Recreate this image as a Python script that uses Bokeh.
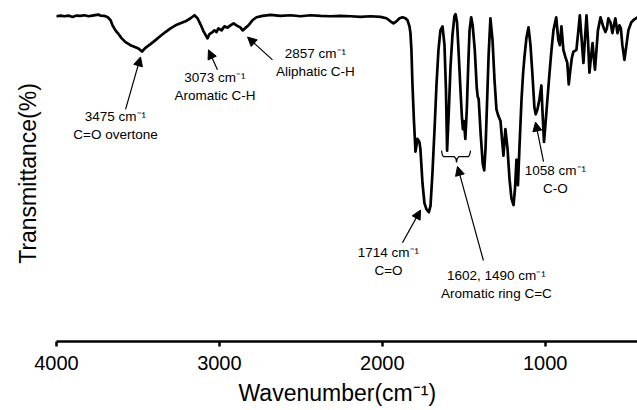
from bokeh.plotting import figure
from bokeh.models import Range1d, FixedTicker, Title, Label, Arrow, NormalHead
from bokeh.embed import file_html
from bokeh.resources import INLINE

# FTIR spectrum: wavenumber (cm-1) and transmittance (%)
wavenumber = [
    4000, 3975, 3951, 3926, 3902, 3877, 3853, 3828, 3804, 3779, 3754, 3742, 3730, 3705, 3687,
    3668, 3656, 3638, 3619, 3601, 3576, 3546, 3515, 3497, 3475,
    3454, 3423, 3392, 3362, 3331, 3300, 3269, 3239, 3208, 3177, 3153, 3134, 3116, 3098, 3073,
    3061, 3042, 3030, 3018, 3006, 2987, 2969, 2950, 2932, 2913, 2895, 2872, 2857,
    2821, 2797, 2772, 2735, 2686, 2625, 2563, 2502, 2441, 2379, 2318, 2257, 2195, 2134, 2072, 2011,
    1974, 1950, 1931, 1913, 1894, 1876, 1858, 1845, 1833, 1827, 1821, 1815, 1806, 1796, 1784, 1772,
    1766, 1753, 1741, 1729, 1714,
    1704, 1692, 1679, 1667, 1655, 1643, 1630, 1618, 1609, 1602,
    1591, 1581, 1569, 1557, 1550, 1541, 1532, 1520, 1511, 1505, 1499, 1490,
    1481, 1472, 1464, 1454, 1445, 1432, 1420, 1414, 1408, 1396, 1383, 1374,
    1366, 1356, 1347, 1336, 1323, 1311, 1299, 1287, 1274, 1265, 1256, 1244, 1231, 1219, 1207, 1194,
    1185, 1176, 1167, 1158, 1145, 1136, 1127, 1115, 1102, 1090, 1078, 1066, 1058,
    1047, 1035, 1023, 1017, 1007, 998, 986, 974, 961, 949, 932, 919, 910, 900, 888, 876, 864, 855,
    845, 836, 827, 808, 796, 787, 778, 765, 756, 746, 737, 728, 719, 709, 703, 694, 685, 676, 660,
    642, 630, 621, 612, 599, 587, 578, 569, 556, 544, 535, 526, 513, 501, 489, 471, 452, 433,
]
transmittance = [
    96.8, 97.0, 96.8, 97.0, 96.6, 97.0, 96.9, 97.1, 96.8, 97.0, 97.2, 97.3, 97.0, 96.9, 96.6,
    95.6, 94.1, 92.6, 91.5, 90.3, 89.1, 88.2, 87.6, 87.2, 86.3,
    87.4, 88.5, 89.7, 90.9, 92.1, 93.2, 94.1, 94.7, 95.3, 96.2, 97.1, 96.2, 94.4, 92.4, 90.2,
    91.5, 92.1, 92.6, 92.1, 93.2, 92.6, 93.8, 93.4, 94.1, 94.7, 94.1, 93.5, 92.6,
    94.1, 95.6, 96.5, 96.9, 97.2, 96.9, 97.1, 96.8, 97.1, 96.9, 96.8, 96.9, 96.8, 96.6, 96.8, 96.6,
    96.2, 95.3, 94.7, 95.3, 96.2, 96.5, 96.2, 95.6, 93.8, 91.8, 86.8, 77.1, 66.2, 56.5, 60.3, 59.4,
    57.4, 47.1, 41.2, 39.4, 38.5,
    40.3, 50.0, 63.2, 76.5, 86.8, 92.6, 93.8, 88.2, 75.0, 56.8,
    69.1, 81.8, 91.2, 96.8, 97.4, 95.0, 86.8, 75.0, 66.8, 63.2, 65.6, 60.3,
    69.1, 82.4, 92.6, 96.5, 94.1, 86.8, 75.6, 72.9, 72.1, 61.8, 52.9, 50.9,
    57.4, 72.1, 85.3, 96.2, 89.7, 77.9, 69.1, 67.1, 65.6, 60.3, 55.3, 63.2, 57.4, 48.5, 42.6, 40.6,
    45.6, 54.1, 46.5, 57.4, 72.1, 79.4, 84.7, 90.3, 93.5, 88.2, 79.4, 69.7, 67.6,
    69.1, 72.1, 76.2, 69.1, 59.4, 64.7, 72.1, 79.4, 86.8, 92.6, 96.5, 89.7, 88.2, 93.8, 86.8, 84.7, 82.9, 76.5,
    80.9, 84.4, 86.2, 86.8, 92.6, 97.1, 91.2, 82.9, 89.7, 97.1, 89.7, 80.0, 84.4, 88.8, 85.3, 80.9, 86.8, 92.6, 96.5,
    93.5, 92.1, 93.2, 96.2, 95.0, 91.8, 94.1, 96.2, 91.8, 94.1, 93.2, 88.2, 83.8, 88.2, 92.6, 95.0, 95.9, 96.5,
]

tick_values = [4000, 3000, 2000, 1000]
tick_labels = {4000: "4000", 3000: "3000", 2000: "2000", 1000: "1000"}

# Peak assignments: text, text anchor, arrow tail, arrow tip
peak_texts = [
    "3475 cm\u207b\u00b9\nC=O overtone",
    "3073 cm\u207b\u00b9\nAromatic C-H",
    "2857 cm\u207b\u00b9\nAliphatic C-H",
    "1714 cm\u207b\u00b9\nC=O",
    "1602, 1490 cm\u207b\u00b9\nAromatic ring C=C",
    "1058 cm\u207b\u00b9\nC-O",
]
text_x = [3638, 3027, 2410, 1962, 1299, 937]
text_y = [64.3, 75.9, 82.9, 23.7, 16.9, 48.1]
arrow_x0 = [3576, 3012, 2674, 1876, 1379, 1010]
arrow_y0 = [69.1, 80.9, 83.8, 29.4, 24.1, 53.5]
arrow_x1 = [3484, 3067, 2827, 1765, 1538, 1059]
arrow_y1 = [84.7, 86.8, 90.6, 39.1, 52.1, 65.3]

# Brace grouping the two aromatic ring bands
brace_x = [1636, 1631, 1624, 1558, 1548, 1544, 1540, 1530, 1471, 1464, 1458]
brace_y = [56.8, 55.5, 55.0, 55.0, 54.4, 53.3, 54.4, 55.0, 55.0, 55.5, 56.8]

FONT = "Liberation Sans"

p = figure(
    width=637, height=410,
    x_range=Range1d(4000, 433), y_range=Range1d(0, 100),
    y_axis_type=None,
    output_backend="svg", toolbar_location=None,
    min_border_left=56, min_border_right=0, min_border_top=5, min_border_bottom=65,
    background_fill_color="white", border_fill_color="white",
)
p.outline_line_color = None
p.xgrid.visible = False
p.ygrid.visible = False

p.line(wavenumber, transmittance, line_color="black", line_width=2.7,
       line_join="round", line_cap="round")

ax = p.xaxis[0]
ax.ticker = FixedTicker(ticks=tick_values)
ax.major_label_overrides = tick_labels
ax.minor_tick_line_color = None
ax.major_tick_in = 0
ax.major_tick_out = 5
ax.axis_line_width = 2.5
ax.major_tick_line_width = 2.5
ax.axis_line_color = "black"
ax.major_tick_line_color = "black"
ax.major_label_text_font = FONT
ax.major_label_text_font_size = "20px"
ax.major_label_text_color = "black"
ax.major_label_standoff = 9

p.add_layout(Title(text="Wavenumber(cm\u207b\u00b9)", align="left", offset=182, standoff=10,
                   vertical_align="bottom",
                   text_font=FONT, text_font_size="23px", text_font_style="normal",
                   text_color="black"), "below")
p.add_layout(Title(text="Transmittance(%)", align="center",
                   vertical_align="top",
                   text_font=FONT, text_font_size="23px", text_font_style="normal",
                   text_color="black", standoff=28), "left")

for t, tx, ty in zip(peak_texts, text_x, text_y):
    p.add_layout(Label(x=tx, y=ty, text=t, text_align="center", text_baseline="middle",
                       text_font=FONT, text_font_size="13.5px", text_color="black",
                       text_line_height=1.2))

for x0, y0, x1, y1 in zip(arrow_x0, arrow_y0, arrow_x1, arrow_y1):
    p.add_layout(Arrow(x_start=x0, y_start=y0, x_end=x1, y_end=y1, line_width=1.2,
                       line_color="black",
                       end=NormalHead(size=9, fill_color="black", line_color="black")))

p.line(brace_x, brace_y, line_color="black", line_width=1.2)

open("out.html", "w").write(file_html(p, INLINE))
